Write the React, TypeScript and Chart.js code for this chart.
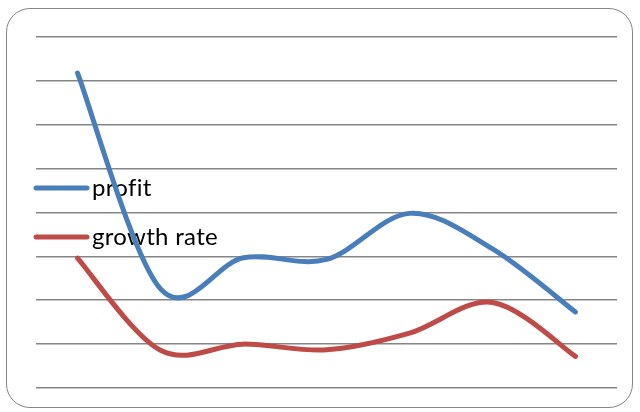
import React, { useEffect, useRef } from "react";
import { Chart, registerables } from "chart.js";

Chart.register(...registerables);

const categories = ["1", "2", "3", "4", "5", "6", "7"];
const profitValues = [71.8, 22.6, 29.7, 29.3, 39.8, 31.7, 17.3];
const growthRateValues = [29.6, 8.6, 10.0, 8.7, 12.5, 19.5, 7.2];
const seriesLabels = ["profit", "growth rate"];

// Uniform Catmull-Rom smoothing (like office "smoothed line"), computed from
// the positions the library gave each point.
const uniformSmooth = {
  id: "uniformSmooth",
  beforeDatasetDraw(chart: any, args: any) {
    const meta = args.meta;
    const line = meta.dataset;
    if (!line) return;
    line.updateControlPoints(chart.chartArea, meta.iScale ? meta.iScale.axis : "x");
    const pts = meta.data;
    const n = pts.length;
    for (let i = 0; i < n; i++) {
      const p = pts[i];
      const prev = pts[Math.max(0, i - 1)];
      const next = pts[Math.min(n - 1, i + 1)];
      const tx = (next.x - prev.x) / 6;
      const ty = (next.y - prev.y) / 6;
      p.cp1x = p.x - tx;
      p.cp1y = p.y - ty;
      p.cp2x = p.x + tx;
      p.cp2y = p.y + ty;
    }
    line._path = undefined;
  },
};

const insideLegend = {
  id: "insideLegend",
  beforeDatasetsDraw(chart: any) {
    const ctx = chart.ctx;
    const rows = [188, 237];
    ctx.save();
    chart.data.datasets.forEach((ds: any, i: number) => {
      const y = rows[i];
      ctx.strokeStyle = ds.borderColor;
      ctx.lineWidth = 5;
      ctx.lineCap = "round";
      ctx.beginPath();
      ctx.moveTo(36, y);
      ctx.lineTo(87, y);
      ctx.stroke();
      ctx.fillStyle = "#000";
      ctx.font = "24px Lato";
      (ctx as any).letterSpacing = "0.3px";
      ctx.textBaseline = "middle";
      ctx.textAlign = "left";
      ctx.fillText(ds.label, 92, y);
    });
    ctx.restore();
  },
};

export default function App() {
  const ref = useRef<HTMLCanvasElement | null>(null);
  useEffect(() => {
    if (!ref.current) return;
    const chart = new Chart(ref.current, {
      type: "line",
      data: {
        labels: categories,
        datasets: [
          {
            label: seriesLabels[0],
            data: profitValues,
            borderColor: "#4a7ebb",
            borderWidth: 5,
            pointRadius: 0,
            tension: 0.4,
            borderCapStyle: "round",
            borderJoinStyle: "round",
            fill: false,
          },
          {
            label: seriesLabels[1],
            data: growthRateValues,
            borderColor: "#be4b48",
            borderWidth: 5,
            pointRadius: 0,
            tension: 0.4,
            borderCapStyle: "round",
            borderJoinStyle: "round",
            fill: false,
          },
        ],
      },
      options: {
        animation: false,
        responsive: false,
        maintainAspectRatio: false,
        layout: { padding: { left: 36, right: 23, top: 37, bottom: 24 } },
        plugins: { legend: { display: false }, tooltip: { enabled: false } },
        scales: {
          x: { display: false, offset: true },
          y: {
            min: 0,
            max: 80,
            ticks: { display: false, stepSize: 10 },
            grid: { color: "#858585", lineWidth: 1.6, drawTicks: false },
            border: { display: false },
          },
        },
      },
      plugins: [insideLegend, uniformSmooth],
    });
    return () => chart.destroy();
  }, []);
  return (
    <div style={{ position: "fixed", left: 0, top: 0, width: 640, height: 412, background: "#fff" }}>
      <div
        style={{
          position: "absolute",
          left: 6,
          top: 8,
          width: 627,
          height: 400,
          border: "1.5px solid #858585",
          borderRadius: 24,
          boxSizing: "border-box",
        }}
      />
      <canvas ref={ref} width={640} height={412} style={{ position: "absolute", left: 0, top: 0 }} />
    </div>
  );
}
